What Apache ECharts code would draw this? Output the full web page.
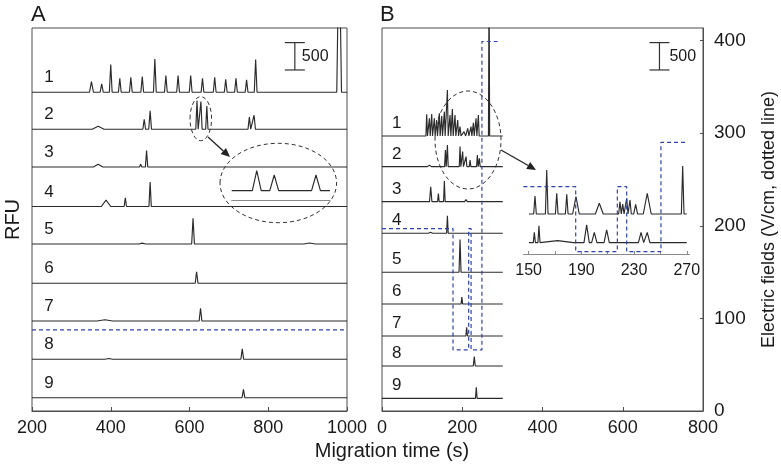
<!DOCTYPE html>
<html><head><meta charset="utf-8">
<script src="https://cdn.jsdelivr.net/npm/echarts@6/dist/echarts.min.js"></script>
<style>html,body{margin:0;padding:0;background:#fff}#c{width:781px;height:472px}</style>
</head><body><div id="c"></div>
<script>
// ---------------- DATA ----------------
const traceNames = ['1','2','3','4','5','6','7','8','9'];
const xTicksA = [200, 400, 600, 800, 1000];
const xTicksB = [0, 200, 400, 600, 800];
const fieldTicks = [0, 100, 200, 300, 400];
const insetTicksB = [150, 170, 190, 210, 230, 250, 270];
const insetLabelsB = [150, 190, 230, 270];
const scaleBarRFU = 500;

// baselines (RFU offset of each stacked trace)
const baseA = [5826, 5150, 4460, 3738, 3053, 2334, 1645, 945, 243];
const baseB = [5027, 4466, 3826, 3248, 2535, 1956, 1371, 823, 232];

// peaks: [migration time (s), height (RFU), half base width (s)]
const peaksA1 = [[351,195,5],[377,152,4],[400,506,3.5],[423,256,3.5],[451,275,3.5],[480,287,3.5],[512,609,3.5],[540,305,3.5],[571,305,3.5],[603,305,3.5],[633,256,3.5],[664,275,3.5],[692,238,3.5],[718,256,3.5],[745,225,3.5],[768,600,3.5],[980,3000,6]];
const peaksA2 = [[368,55,15],[430,35,4],[485,183,3.5],[500,335,3.5],[619,518,3],[629,506,3],[644,426,3],[752,220,3.5],[764,256,3.5]];
const peaksA3 = [[368,50,12],[406,18,4],[476,50,3],[491,300,3]];
const peaksA4 = [[388,115,12],[437,158,3],[500,445,3]];
const peaksA5 = [[480,15,8],[609,470,3.5],[905,18,15]];
const peaksA6 = [[618,212,3.5]];
const peaksA7 = [[385,22,20],[628,232,3.5]];
const peaksA8 = [[395,15,10],[734,190,3.5]];
const peaksA9 = [[737,152,3.5]];

const peaksB1 = [[111.4,396,2],[118.1,323,2],[123.9,402,2],[130.5,323,2],[136.3,292,2],[142.9,415,2],[148.8,366,2],[155.4,444,2],[163,840,2],[169.6,384,2],[175.4,494,2],[182,384,2],[188.7,292,2],[194.5,170,2.5],[204.5,80,4],[213.6,140,3],[221.9,170,2],[227.8,240,2],[234.4,323,2],[240.2,384,2],[266.8,3000,1.5]];
const peaksB2 = [[118,25,5],[158,305,2],[163,396,2],[194.5,366,2],[201,274,2],[209.5,183,2],[219.5,122,2],[237.7,213,2],[242.7,152,2]];
const peaksB3 = [[121.4,274,3],[140.5,150,2],[155.4,378,2],[202.8,30,3],[209.5,37,3]];
const peaksB4 = [[121,18,5],[163,320,2]];
const peaksB5 = [[194.5,600,2.5]];
const peaksB6 = [[199,125,2]];
const peaksB7 = [[211,160,2]];
const peaksB8 = [[230,170,2.5]];
const peaksB9 = [[235,200,2]];

// electric field (V/cm) step profile
const fieldA_t = [200, 1000];
const fieldA_v = [87.5, 87.5];
const fieldB_t = [0, 177, 177, 216, 216, 222, 222, 249, 249, 294];
const fieldB_v = [197, 197, 66, 66, 197, 197, 66, 66, 399, 399];

// inset A (trace 2 triplet, zoomed)
const insetA_base = 170;
const insetA_peaks = [[620.2,366,1.8],[627.3,287,1.8],[644.3,287,1.8]];
// inset B (traces 1 and 2, 150-270 s zoomed)
const insetB_base1 = 731;
const insetB_peaks1 = [[154.8,329,1],[163.7,804,1],[171.3,378,1],[178.9,360,1],[185.9,316,2.5],[203.6,196,3],[219.3,225,1],[221.4,183,1],[224.4,287,1],[226.9,256,1],[231.2,177,1.5],[240,378,3],[266.9,877,1]];
const insetB_base2 = 207;
const insetB_peaks2 = [[154.3,188,0.8],[157.8,311,0.8],[172,37,12],[194,324,2],[199.8,188,2],[209.2,232,2],[235.3,188,2],[240,188,2]];
const insetB_field_t = [146, 185.7, 185.7, 217.3, 217.3, 224.4, 224.4, 250.4, 250.4, 270];
const insetB_field_v = [1230, 1230, 42, 42, 1230, 1230, 42, 42, 2042, 2042];

// ---------------- BUILD ----------------
const peaksA = [peaksA1,peaksA2,peaksA3,peaksA4,peaksA5,peaksA6,peaksA7,peaksA8,peaksA9];
const peaksB = [peaksB1,peaksB2,peaksB3,peaksB4,peaksB5,peaksB6,peaksB7,peaksB8,peaksB9];

function trace(peaks, base, x0, x1) {
  const xs = new Set([x0, x1]);
  peaks.forEach(([t, h, w]) => [t - w, t, t + w].forEach(x => { if (x > x0 && x < x1) xs.add(+x.toFixed(3)); }));
  return [...xs].sort((a, b) => a - b).map(x => [x, base + peaks.reduce((s, [t, h, w]) => s + Math.max(0, h * (1 - Math.abs(x - t) / w)), 0)]);
}
const zip = (a, b) => a.map((v, i) => [v, b[i]]);

const FONT = 'Liberation Sans, Arial, Helvetica, sans-serif';
const TXT = '#1a1a1a';
const TRACE = '#2b2b2b';
const BLUE = '#2e43b0';

const lineS = (data, xi, yi, extra) => Object.assign({
  type: 'line', data, xAxisIndex: xi, yAxisIndex: yi, showSymbol: false, symbol: 'none',
  lineStyle: { color: TRACE, width: 1.15 }, silent: true, clip: true, z: 3
}, extra || {});
const fieldStyle = { color: BLUE, width: 1.2, type: [4, 3] };

const series = [];
peaksA.forEach((p, i) => series.push(lineS(trace(p, baseA[i], 200, 1000), 0, 0)));
peaksB.forEach((p, i) => series.push(lineS(trace(p, baseB[i], 0, 301), 1, 2)));
series.push(lineS(zip(fieldA_t, fieldA_v), 0, 1, { lineStyle: fieldStyle, z: 4 }));
series.push(lineS(zip(fieldB_t, fieldB_v), 1, 3, { lineStyle: fieldStyle, z: 4 }));
series.push(lineS(trace(insetA_peaks, insetA_base, 610, 650), 2, 4));
series.push(lineS(trace(insetB_peaks1, insetB_base1, 150.2, 270), 3, 5));
series.push(lineS(trace(insetB_peaks2, insetB_base2, 150.2, 270), 3, 5));
series.push(lineS(zip(insetB_field_t, insetB_field_v), 3, 5, { lineStyle: fieldStyle, z: 4 }));

function scaleBar(xi, yi, x, y0, dx) {
  return {
    type: 'custom', xAxisIndex: xi, yAxisIndex: yi, silent: true, z: 5, clip: false,
    data: [[x, y0, scaleBarRFU]],
    renderItem: (params, api) => {
      const p0 = api.coord([api.value(0), api.value(1)]);
      const p1 = api.coord([api.value(0), api.value(1) + api.value(2)]);
      const st = { stroke: '#333', lineWidth: 1.2 };
      return { type: 'group', children: [
        { type: 'line', shape: { x1: p0[0], y1: p0[1], x2: p1[0], y2: p1[1] }, style: st },
        { type: 'line', shape: { x1: p0[0] - 10, y1: p0[1], x2: p0[0] + 10, y2: p0[1] }, style: st },
        { type: 'line', shape: { x1: p1[0] - 10, y1: p1[1], x2: p1[0] + 10, y2: p1[1] }, style: st },
        { type: 'text', style: { text: String(api.value(2)), x: p0[0] + dx, y: (p0[1] + p1[1]) / 2,
          fill: TXT, font: '16px ' + FONT, align: 'left', verticalAlign: 'middle',
          textAlign: 'left', textVerticalAlign: 'middle' } }
      ]};
    }
  };
}
series.push(scaleBar(0, 0, 867.5, 6233, 7));
series.push(scaleBar(1, 2, 691.5, 6233, 10));

const plain = v => String(v);
const axLabel = { color: TXT, fontSize: 18, fontFamily: FONT, margin: 8, formatter: plain };
const mainX = (min, max, ticks, gi) => ({
  type: 'value', gridIndex: gi, min, max, interval: 200,
  axisLine: { show: true, lineStyle: { color: '#4d4d4d', width: 1 } },
  axisTick: { show: true, inside: true, length: 4, lineStyle: { color: '#4d4d4d' }, customValues: ticks },
  axisLabel: Object.assign({ customValues: ticks }, axLabel),
  splitLine: { show: false }
});

const option = {
  animation: false,
  backgroundColor: '#fff',
  grid: [
    { left: 32, right: 434, top: 28, bottom: 61, show: true, borderColor: '#4d4d4d', borderWidth: 1 },
    { left: 382, right: 78, top: 28, bottom: 61, show: true, borderColor: '#4d4d4d', borderWidth: 1 },
    { left: 231.7, right: 451, top: 160, bottom: 272 },
    { left: 523.4, right: 91.6, top: 140, bottom: 218 }
  ],
  xAxis: [
    mainX(200, 1000, xTicksA, 0),
    mainX(0, 800, xTicksB, 1),
    { type: 'value', gridIndex: 2, min: 610, max: 650,
      axisLine: { show: true, lineStyle: { color: '#8a8a8a', width: 1.2 } },
      axisTick: { show: false }, axisLabel: { show: false }, splitLine: { show: false } },
    { type: 'value', gridIndex: 3, min: 146, max: 272,
      axisLine: { show: true, lineStyle: { color: '#8a8a8a', width: 1.2 } },
      axisTick: { show: true, length: 3, inside: true, lineStyle: { color: '#8a8a8a' }, customValues: insetTicksB },
      axisLabel: { customValues: insetLabelsB, color: TXT, fontSize: 16, fontFamily: FONT, margin: 9, formatter: plain },
      splitLine: { show: false } }
  ],
  yAxis: [
    { type: 'value', gridIndex: 0, min: 0, max: 7000, name: 'RFU', nameLocation: 'middle', nameGap: 9, nameRotate: 90,
      nameTextStyle: { fontSize: 20, color: TXT, fontFamily: FONT },
      axisLine: { show: false }, axisTick: { show: false }, axisLabel: { show: false }, splitLine: { show: false } },
    { type: 'value', gridIndex: 0, min: 0, max: 413.6, show: false, position: 'right' },
    { type: 'value', gridIndex: 1, min: 0, max: 7000, show: false, position: 'left' },
    { type: 'value', gridIndex: 1, min: 0, max: 413.6, position: 'right',
      name: 'Electric fields (V/cm, dotted line)', nameLocation: 'middle', nameGap: 57, nameRotate: 90,
      nameTextStyle: { fontSize: 18, color: TXT, fontFamily: FONT },
      axisLine: { show: true, lineStyle: { color: '#4d4d4d' } },
      axisTick: { show: true, inside: true, length: 3, lineStyle: { color: '#4d4d4d' }, customValues: fieldTicks },
      axisLabel: { customValues: fieldTicks, color: TXT, fontSize: 19, fontFamily: FONT, margin: 11, formatter: plain },
      splitLine: { show: false } },
    { type: 'value', gridIndex: 2, min: 0, max: 731, show: false },
    { type: 'value', gridIndex: 3, min: 0, max: 2084, show: false }
  ],
  series
};

const chart = echarts.init(document.getElementById('c'), null, { renderer: 'canvas' });
chart.setOption(option);

// ---------------- ANNOTATIONS ----------------
const g = [];
const txt = (text, x, y, size, align, extra) => Object.assign({
  type: 'text', x, y, silent: true, z: 10,
  style: { text, fill: TXT, font: size + 'px ' + FONT, textAlign: align || 'center', textVerticalAlign: 'middle', align: align || 'center', verticalAlign: 'middle' }
}, extra || {});
g.push(txt('A', 31, 15, 22, 'left'));
g.push(txt('B', 380, 15, 22, 'left'));
g.push(txt('Migration time (s)', 392, 451, 20, 'center'));
traceNames.forEach((n, i) => {
  const pa = chart.convertToPixel({ xAxisIndex: 0, yAxisIndex: 0 }, [243, baseA[i] + 265]);
  g.push(txt(n, pa[0], pa[1], 17, 'center'));
  const pb = chart.convertToPixel({ xAxisIndex: 1, yAxisIndex: 2 }, [37, baseB[i] + 230]);
  g.push(txt(n, pb[0], pb[1], 17, 'center'));
});
const ell = (cx, cy, rx, ry) => ({ type: 'ellipse', silent: true, z: 9, shape: { cx, cy, rx, ry },
  style: { fill: 'none', stroke: '#333', lineWidth: 1, lineDash: [4, 3] } });
g.push(ell(200.8, 118.7, 10.8, 22));
g.push(ell(278.3, 183, 58.3, 39.7));
g.push(ell(468, 140, 33, 49));
function arrow(x1, y1, x2, y2) {
  const dx = x2 - x1, dy = y2 - y1, L = Math.hypot(dx, dy), ux = dx / L, uy = dy / L, nx = -uy, ny = ux;
  const hx = x2 - 9 * ux, hy = y2 - 9 * uy;
  g.push({ type: 'line', silent: true, z: 9, shape: { x1, y1, x2: hx, y2: hy }, style: { stroke: '#222', lineWidth: 1.3 } });
  g.push({ type: 'polygon', silent: true, z: 9, shape: { points: [[x2, y2], [hx + 4 * nx, hy + 4 * ny], [hx - 4 * nx, hy - 4 * ny]] }, style: { fill: '#222' } });
}
arrow(208, 137, 230, 157);
arrow(501, 150, 536, 170);
chart.setOption({ graphic: { elements: g } });
</script>
</body></html>
